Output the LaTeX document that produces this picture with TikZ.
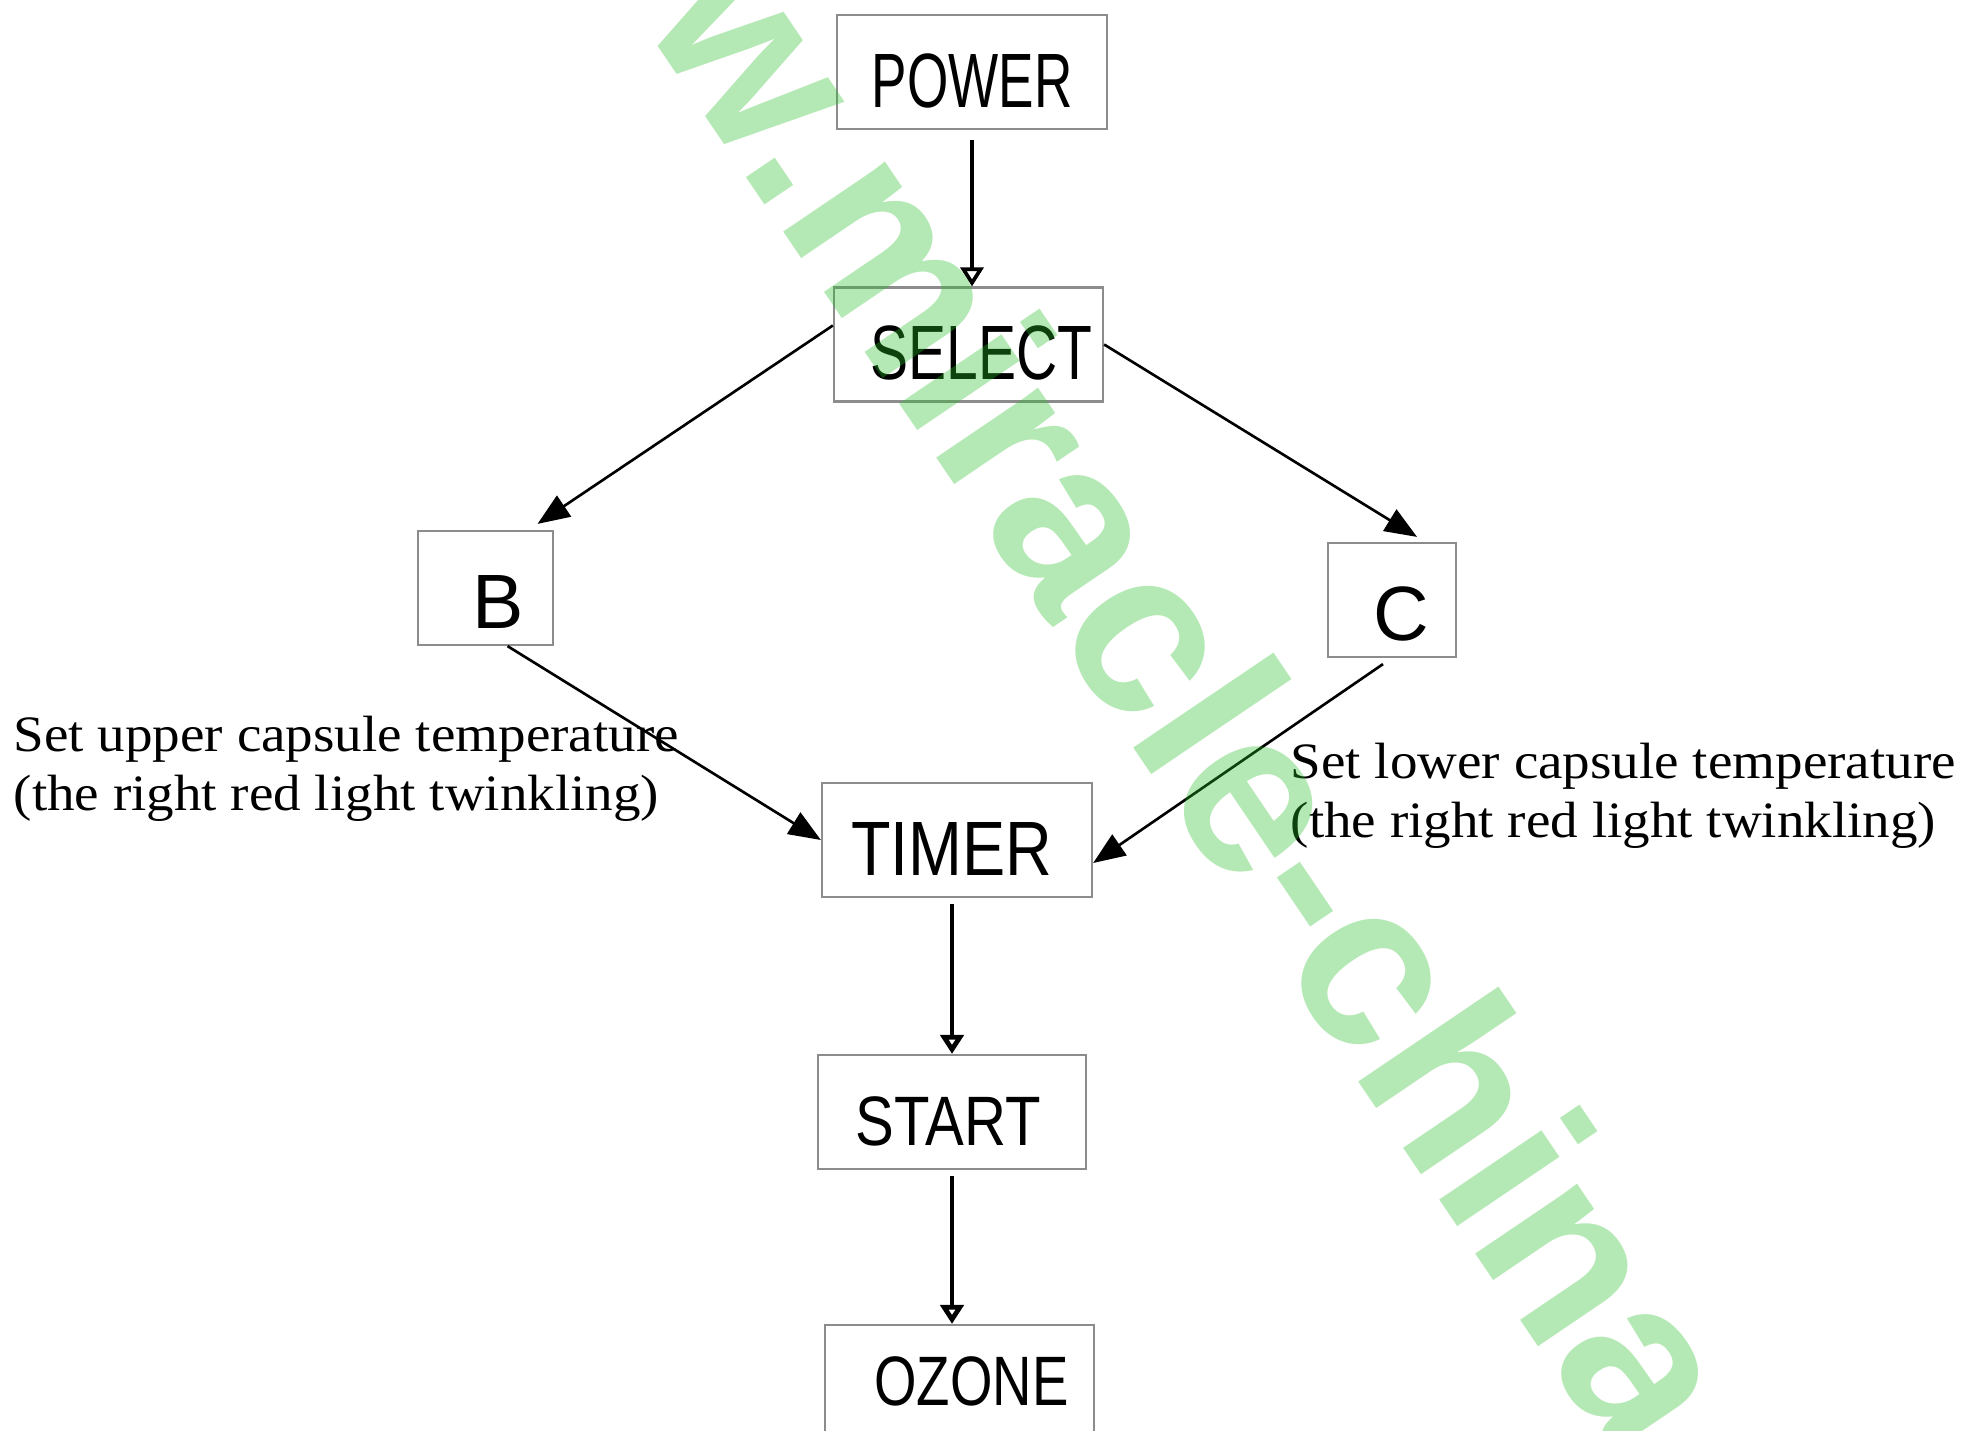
\documentclass[tikz,border=0pt]{standalone}
\usepackage{fontspec}
\setmainfont{Liberation Serif}
\setsansfont{Liberation Sans}
\usetikzlibrary{positioning,arrows.meta,calc}
\definecolor{wmgreen}{RGB}{40,190,40}

\tikzset{
  box/.style={draw=gray!90, line width=0.6pt, minimum width=2.69cm, minimum height=1.14cm,
    inner sep=0pt, text height=0.70cm, text depth=0pt,
    font=\sffamily\fontsize{21.9}{24}\selectfont},
  openarr/.style={-{Triangle[open,length=0.19cm,width=0.23cm]}, line width=1.35pt},
  fillarr/.style={-{Triangle[length=0.32cm,width=0.25cm]}, line width=0.75pt},
  note/.style={anchor=west, inner sep=0pt, align=left, font=\fontsize{14.5}{16.8}\selectfont},
}
\newcommand{\narrow}[2]{\scalebox{#1}[1]{#2}}

\begin{document}
\begin{tikzpicture}[x=0.01cm, y=-0.01cm]
\useasboundingbox (0,0) rectangle (1979,1431);
% boxes
\node[box] (power) at (972,72) {\narrow{0.69}{POWER}};
\node[box] (select) at (968.5,344.5) {\hspace*{0.26cm}\narrow{0.74}{SELECT}};
\node[box, minimum width=1.35cm, text height=0.80cm] (b) at (485.5,588) {\hspace*{0.26cm}B};
\node[box, minimum width=1.28cm, text height=0.80cm] (c) at (1392,600) {\hspace*{0.18cm}C};
\node[box, minimum width=2.70cm] (timer) at (957,840) {\narrow{0.84}{TIMER}\hspace*{0.1cm}};
\node[box, minimum width=2.68cm, text height=0.66cm, font=\sffamily\fontsize{19.9}{22}\selectfont] (start) at (952,1112) {\narrow{0.83}{START}\hspace*{0.07cm}};
\node[box, text height=0.46cm, font=\sffamily\fontsize{19.9}{22}\selectfont] (ozone) at (959.5,1382) {\hspace*{0.24cm}\narrow{0.78}{OZONE}};
% notes
\node[note] (uppernote) at (13,769) {\narrow{1.08}{Set upper capsule temperature}\\\narrow{1.08}{(the right red light twinkling)}};
\node[note] (lowernote) at (1290,796) {\narrow{1.08}{Set lower capsule temperature}\\\narrow{1.08}{(the right red light twinkling)}};
% arrows
\draw[openarr, line width=1.05pt, shorten <=0.1cm] (power.south) -- (power.south |- select.north);
\draw[fillarr] ([yshift=0.19cm]select.west) -- ([xshift=0.52cm,yshift=0.06cm]b.north);
\draw[fillarr] (select.east) -- ([xshift=0.25cm,yshift=0.05cm]c.north);
\draw[fillarr] ([xshift=0.22cm]b.south) -- (timer.west);
\draw[fillarr] ([xshift=-0.09cm,yshift=-0.06cm]c.south) -- ([yshift=-0.23cm]timer.east);
\draw[openarr, shorten <=0.06cm] (timer.south -| start.north) -- (start.north);
\draw[openarr, shorten <=0.06cm] (start.south) -- (start.south |- ozone.north);
% watermark
\node[rotate=-55.9, anchor=base, inner sep=0pt, text=wmgreen, text opacity=0.35,
  font=\sffamily\bfseries\fontsize{66.5}{70}\selectfont] (mark) at (1028,593) {www.miracle-china};
\end{tikzpicture}
\end{document}
